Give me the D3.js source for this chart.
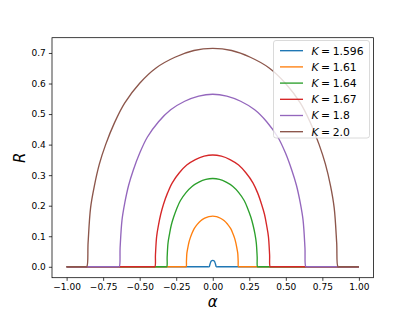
<!DOCTYPE html>
<html><head><meta charset="utf-8">
<script src="https://cdn.jsdelivr.net/npm/d3@7"></script>
<style>html,body{margin:0;padding:0;background:#fff;}svg{display:block;font-family:"DejaVu Sans",sans-serif;}</style>
</head><body>
<svg id="c" width="415" height="312"></svg>
<script>
const labels = ["1.596", "1.61", "1.64", "1.67", "1.8", "2.0"];
const colors = ["#1f77b4", "#ff7f0e", "#2ca02c", "#d62728", "#9467bd", "#8c564b"];

const alphaK1596 = [-1.0, -0.035, -0.025, -0.018, -0.010, 0.0, 0.010, 0.018, 0.025, 0.035, 1.0];
const rK1596     = [0, 0, 0, 0.010, 0.019, 0.021, 0.019, 0.010, 0, 0, 0];

const alphaK161 = [-1.0, -0.192, -0.182, -0.180, -0.177, -0.171, -0.164, -0.155, -0.142, -0.127, -0.106, -0.082, -0.055, -0.027, 0.0,
                   0.026, 0.053, 0.079, 0.102, 0.123, 0.137, 0.150, 0.158, 0.165, 0.171, 0.174, 0.176, 0.186, 1.0];
const rK161     = [0, 0, 0, 0.018, 0.045, 0.061, 0.078, 0.093, 0.110, 0.125, 0.139, 0.151, 0.159, 0.164, 0.166,
                   0.164, 0.159, 0.151, 0.139, 0.125, 0.110, 0.093, 0.078, 0.061, 0.045, 0.018, 0, 0, 0];

const alphaK164 = [-1.0, -0.325, -0.315, -0.312, -0.306, -0.296, -0.284, -0.268, -0.246, -0.221, -0.183, -0.142, -0.095, -0.047, 0.0,
                   0.046, 0.092, 0.138, 0.178, 0.215, 0.239, 0.261, 0.276, 0.289, 0.298, 0.304, 0.307, 0.317, 1.0];
const rK164     = [0, 0, 0, 0.032, 0.078, 0.107, 0.136, 0.162, 0.191, 0.217, 0.243, 0.263, 0.277, 0.286, 0.289,
                   0.286, 0.277, 0.263, 0.243, 0.217, 0.191, 0.162, 0.136, 0.107, 0.078, 0.032, 0, 0, 0];

const alphaK167 = [-1.0, -0.406, -0.396, -0.392, -0.384, -0.372, -0.356, -0.337, -0.309, -0.277, -0.230, -0.178, -0.119, -0.059, 0.0,
                   0.059, 0.118, 0.177, 0.228, 0.275, 0.307, 0.334, 0.354, 0.369, 0.381, 0.389, 0.393, 0.403, 1.0];
const rK167     = [0, 0, 0, 0.040, 0.099, 0.135, 0.172, 0.205, 0.242, 0.275, 0.307, 0.333, 0.351, 0.362, 0.366,
                   0.362, 0.351, 0.333, 0.307, 0.275, 0.242, 0.205, 0.172, 0.135, 0.099, 0.040, 0, 0, 0];

const alphaK18 = [-1.0, -0.650, -0.640, -0.634, -0.621, -0.602, -0.576, -0.544, -0.499, -0.448, -0.371, -0.288, -0.192, -0.096, 0.0,
                  0.096, 0.191, 0.287, 0.369, 0.446, 0.497, 0.541, 0.573, 0.599, 0.618, 0.631, 0.637, 0.647, 1.0];
const rK18     = [0, 0, 0, 0.062, 0.153, 0.209, 0.266, 0.316, 0.373, 0.424, 0.475, 0.514, 0.542, 0.559, 0.565,
                  0.559, 0.542, 0.514, 0.475, 0.424, 0.373, 0.316, 0.266, 0.209, 0.153, 0.062, 0, 0, 0];

const alphaK20 = [-1.0, -0.872, -0.862, -0.853, -0.836, -0.810, -0.776, -0.733, -0.672, -0.603, -0.500, -0.388, -0.259, -0.129, 0.0,
                  0.129, 0.257, 0.386, 0.497, 0.600, 0.668, 0.728, 0.771, 0.806, 0.831, 0.848, 0.857, 0.867, 1.0];
const rK20     = [0, 0, 0, 0.079, 0.193, 0.265, 0.336, 0.400, 0.472, 0.536, 0.601, 0.651, 0.686, 0.708, 0.715,
                  0.708, 0.686, 0.651, 0.601, 0.536, 0.472, 0.400, 0.336, 0.265, 0.193, 0.079, 0, 0, 0];

const xTicks = [-1.0, -0.75, -0.5, -0.25, 0.0, 0.25, 0.5, 0.75, 1.0];
const yTicks = [0.0, 0.1, 0.2, 0.3, 0.4, 0.5, 0.6, 0.7];

const seriesAlpha = [alphaK1596, alphaK161, alphaK164, alphaK167, alphaK18, alphaK20];
const seriesR = [rK1596, rK161, rK164, rK167, rK18, rK20];

const L = 52, R = 373.5, T = 37.7, B = 277.7;
const x = d3.scaleLinear().domain([-1.1, 1.1]).range([L, R]);
const y = d3.scaleLinear().domain([-0.0357, 0.75]).range([B, T]);

const svg = d3.select("#c");
const fmtMinus = s => s.replace("-", "\u2212");

// lines
const line = d3.line().x(d => x(d[0])).y(d => y(d[1])).curve(d3.curveCatmullRom.alpha(0.5));
seriesAlpha.forEach((al, i) => {
  const pts = al.map((a, j) => [a, seriesR[i][j]]);
  svg.append("path").attr("d", line(pts)).attr("fill", "none")
    .attr("stroke", colors[i]).attr("stroke-width", 1.35)
    .attr("stroke-linejoin", "round").attr("stroke-linecap", "butt");
});

// axes
const xAxis = d3.axisBottom(x).tickValues(xTicks).tickSize(3.15).tickPadding(3)
  .tickFormat(d => fmtMinus(d3.format(".2f")(d)));
const yAxis = d3.axisLeft(y).tickValues(yTicks).tickSize(3.15).tickPadding(3)
  .tickFormat(d => d3.format(".1f")(d));
const gx = svg.append("g").attr("transform", `translate(0,${B})`).call(xAxis);
const gy = svg.append("g").attr("transform", `translate(${L},0)`).call(yAxis);
[gx, gy].forEach(g => {
  g.select(".domain").remove();
  g.selectAll("line").attr("stroke", "#000").attr("stroke-width", 0.75);
  g.selectAll("text").attr("font-size", 9).attr("fill", "#000").attr("font-family", "DejaVu Sans");
});
svg.append("rect").attr("x", L).attr("y", T).attr("width", R - L).attr("height", B - T)
  .attr("fill", "none").attr("stroke", "#000").attr("stroke-width", 0.75);

// axis labels
svg.append("text").attr("x", (L + R) / 2).attr("y", 307).attr("text-anchor", "middle")
  .attr("font-size", 15).attr("font-style", "italic").attr("font-family", "DejaVu Sans").text("\u03b1");
svg.append("text").attr("transform", `translate(25,${(T + B) / 2}) rotate(-90)`).attr("text-anchor", "middle")
  .attr("font-size", 15).attr("font-style", "italic").attr("font-family", "DejaVu Sans").text("R");

// legend
const lg = svg.append("g");
lg.append("rect").attr("x", 273.5).attr("y", 40.5).attr("width", 96).attr("height", 97.5)
  .attr("rx", 2.5).attr("fill", "#fff").attr("fill-opacity", 0.8).attr("stroke", "#d0d0d0").attr("stroke-width", 0.8);
labels.forEach((lab, i) => {
  const yy = 50.7 + i * 16.2;
  lg.append("line").attr("x1", 280).attr("x2", 303).attr("y1", yy).attr("y2", yy)
    .attr("stroke", colors[i]).attr("stroke-width", 1.35);
  const t = lg.append("text").attr("x", 311.5).attr("y", yy + 3.8).attr("font-size", 10.8)
    .attr("font-family", "DejaVu Sans").attr("fill", "#000");
  t.append("tspan").attr("font-style", "italic").text("K");
  t.append("tspan").attr("dx", 2.5).text("=");
  t.append("tspan").attr("dx", 2.5).text(lab);
});
</script>
</body></html>
